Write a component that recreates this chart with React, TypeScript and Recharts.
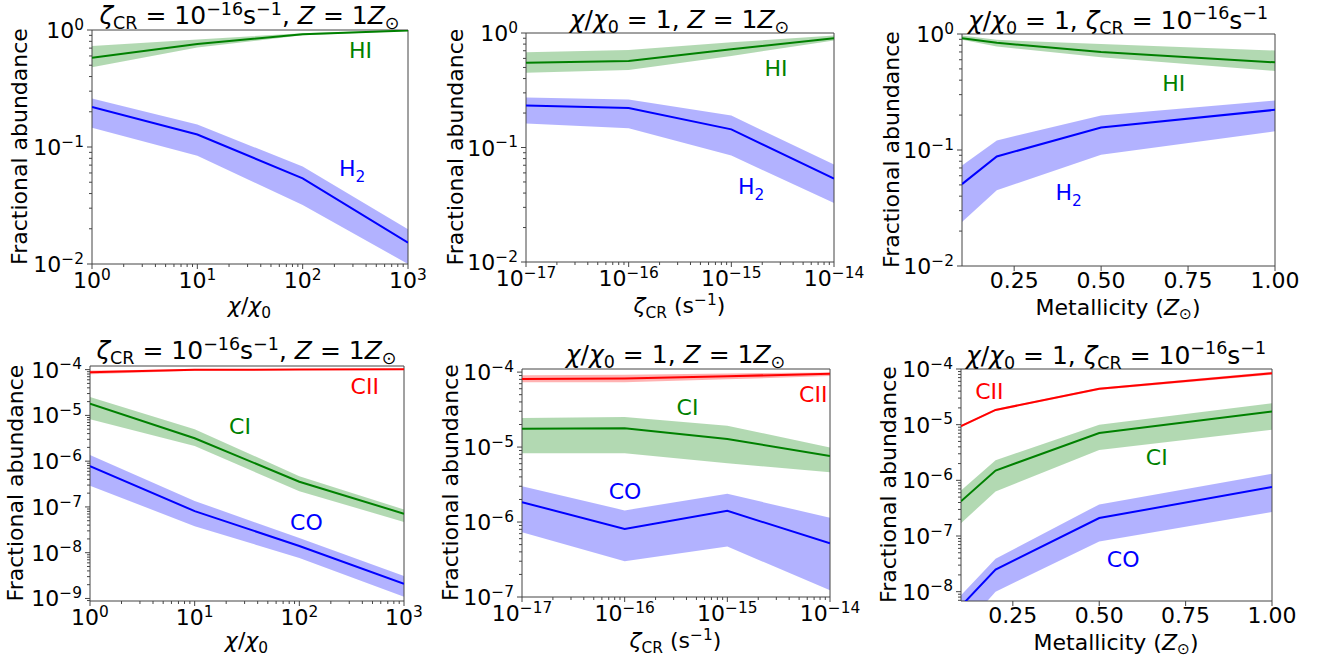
import React from 'react'
import {
  ComposedChart,
  Area,
  Line,
  XAxis,
  YAxis,
  ReferenceArea,
  ReferenceDot,
} from 'recharts'

const FONT = '"DejaVu Sans", Verdana, sans-serif'
const AXIS = '#444'
const GREEN = '#008000'
const BLUE = '#0000ff'
const RED = '#ff0000'

// grids the models were run on
const chiVals = [1, 10, 100, 1000]
const zetaVals = [1e-17, 1e-16, 1e-15, 1e-14]
const metalVals = [0.1, 0.2, 0.5, 1.0]

// tick labels
const chiTicks = [1, 10, 100, 1000]
const zetaTicks = [1e-17, 1e-16, 1e-15, 1e-14]
const metalTicks = [0.25, 0.5, 0.75, 1.0]
const hydTicks = [1e-2, 1e-1, 1]
const carbChiTicks = [1e-9, 1e-8, 1e-7, 1e-6, 1e-5, 1e-4]
const carbZetaTicks = [1e-7, 1e-6, 1e-5, 1e-4]
const carbMetalTicks = [1e-8, 1e-7, 1e-6, 1e-5, 1e-4]

// top row: hydrogen vs chi
const chiHI = [0.58, 0.76, 0.92, 0.99]
const chiHILo = [0.48, 0.71, 0.9, 0.98]
const chiHIHi = [0.73, 0.83, 0.94, 1.0]
const chiH2 = [0.22, 0.128, 0.054, 0.0152]
const chiH2Lo = [0.146, 0.084, 0.032, 0.01]
const chiH2Hi = [0.26, 0.156, 0.068, 0.0198]

// top row: hydrogen vs zeta
const zetaHI = [0.55, 0.57, 0.72, 0.9]
const zetaHILo = [0.45, 0.475, 0.63, 0.86]
const zetaHIHi = [0.68, 0.71, 0.83, 0.95]
const zetaH2 = [0.233, 0.221, 0.144, 0.0534]
const zetaH2Lo = [0.162, 0.147, 0.085, 0.0327]
const zetaH2Hi = [0.274, 0.263, 0.19, 0.071]

// top row: hydrogen vs metallicity
const metalHI = [0.92, 0.84, 0.7, 0.57]
const metalHILo = [0.89, 0.78, 0.63, 0.48]
const metalHIHi = [0.97, 0.89, 0.82, 0.72]
const metalH2 = [0.0508, 0.088, 0.156, 0.222]
const metalH2Lo = [0.0239, 0.045, 0.091, 0.145]
const metalH2Hi = [0.0736, 0.121, 0.198, 0.267]

// bottom row: carbon vs chi
const chiCII = [8.8e-5, 9.9e-5, 1.0e-4, 1.02e-4]
const chiCIILo = [7.9e-5, 9.5e-5, 9.8e-5, 1.0e-4]
const chiCIIHi = [9.6e-5, 1.02e-4, 1.03e-4, 1.04e-4]
const chiCI = [1.81e-5, 3.16e-6, 3.56e-7, 7.1e-8]
const chiCILo = [8.2e-6, 2.14e-6, 2.2e-7, 4.7e-8]
const chiCIHi = [2.53e-5, 4.97e-6, 4.7e-7, 8.8e-8]
const chiCO = [7.8e-7, 8.1e-8, 1.4e-8, 2.1e-9]
const chiCOLo = [2.9e-7, 3.8e-8, 7.7e-9, 1.09e-9]
const chiCOHi = [1.36e-6, 1.35e-7, 2.1e-8, 3.1e-9]

// bottom row: carbon vs zeta
const zetaCII = [8.1e-5, 8.2e-5, 8.8e-5, 9.5e-5]
const zetaCIILo = [7.3e-5, 7.3e-5, 8.0e-5, 8.9e-5]
const zetaCIIHi = [9.1e-5, 9.2e-5, 9.6e-5, 9.9e-5]
const zetaCI = [1.75e-5, 1.78e-5, 1.28e-5, 7.6e-6]
const zetaCILo = [8.3e-6, 8.3e-6, 6.1e-6, 4.6e-6]
const zetaCIHi = [2.45e-5, 2.52e-5, 1.93e-5, 9.9e-6]
const zetaCO = [1.84e-6, 8.1e-7, 1.41e-6, 5.2e-7]
const zetaCOLo = [7.3e-7, 3.0e-7, 4.7e-7, 1.23e-7]
const zetaCOHi = [3.0e-6, 1.43e-6, 2.38e-6, 1.14e-6]

// bottom row: carbon vs metallicity
const metalCII = [9.4e-6, 1.84e-5, 4.4e-5, 8.4e-5]
const metalCIILo = [9.0e-6, 1.76e-5, 4.2e-5, 7.9e-5]
const metalCIIHi = [9.8e-6, 1.92e-5, 4.6e-5, 8.9e-5]
const metalCI = [4.2e-7, 1.5e-6, 7.1e-6, 1.72e-5]
const metalCILo = [1.7e-7, 6.3e-7, 3.5e-6, 8.1e-6]
const metalCIHi = [6.6e-7, 2.3e-6, 1.0e-5, 2.42e-5]
const metalCO = [5.5e-9, 2.5e-8, 2.1e-7, 7.6e-7]
const metalCOLo = [2.0e-9, 1.0e-8, 8.0e-8, 2.7e-7]
const metalCOHi = [8.6e-9, 3.9e-8, 3.7e-7, 1.31e-6]

type Seg = { t: string; s?: 'sub' | 'sup'; i?: boolean }
type Series = { key: string; color: string; mid: number[]; lo: number[]; hi: number[] }
type Tag = { text: string; sub?: string; x: number; y: number; color: string }
type Box = { left: number; top: number; right: number; bottom: number }

const isMajor = (v: number) => Math.abs(Math.log10(v) - Math.round(Math.log10(v))) < 1e-6

// decade ticks plus the 2..9 minor ones inside the domain
function withMinor(majors: number[], domain: number[]) {
  const out: number[] = []
  const e0 = Math.floor(Math.log10(domain[0]) + 1e-9)
  const e1 = Math.floor(Math.log10(domain[1]) + 1e-9)
  for (let e = e0; e <= e1; e++) {
    for (let k = 1; k <= 9; k++) {
      const v = k === 1 ? majors.find(m => Math.round(Math.log10(m)) === e) ?? Math.pow(10, e) : k * Math.pow(10, e)
      if (v >= domain[0] * 0.999 && v <= domain[1] * 1.001) out.push(v)
    }
  }
  return out
}

const expText = (v: number) => {
  const e = Math.round(Math.log10(v))
  return e < 0 ? `\u2212${-e}` : `${e}`
}

function Rich({ x, y, segs, size, anchor = 'middle', fill = '#000', transform }: any) {
  let cur = 0
  return (
    <text x={x} y={y} textAnchor={anchor} fontSize={size} fontFamily={FONT} fill={fill}
      transform={transform} style={{ whiteSpace: 'pre' }}>
      {segs.map((g: Seg, k: number) => {
        const target = g.s === 'sup' ? -size * 0.38 : g.s === 'sub' ? size * 0.2 : 0
        const dy = target - cur
        cur = target
        return (
          <tspan key={k} dy={dy} fontSize={g.s ? size * 0.7 : size} fontStyle={g.i ? 'italic' : 'normal'}>
            {g.t}
          </tspan>
        )
      })}
    </text>
  )
}

const TICK = 22

function LogYTick(props: any) {
  const { x, y, payload } = props
  const major = isMajor(payload.value)
  const len = major ? 5 : 3
  return (
    <g>
      <line x1={x - len} x2={x} y1={y} y2={y} stroke={AXIS} />
      {major && (
        <Rich x={x - 8} y={y + 8} anchor="end" size={TICK}
          segs={[{ t: '10' }, { t: expText(payload.value), s: 'sup' }]} />
      )}
    </g>
  )
}

function LogXTick(props: any) {
  const { x, y, payload } = props
  const major = isMajor(payload.value)
  const len = major ? 5 : 3
  return (
    <g>
      <line x1={x} x2={x} y1={y} y2={y + len} stroke={AXIS} />
      {major && (
        <Rich x={x} y={y + 24} size={TICK}
          segs={[{ t: '10' }, { t: expText(payload.value), s: 'sup' }]} />
      )}
    </g>
  )
}

function LinXTick(props: any) {
  const { x, y, payload } = props
  return (
    <g>
      <line x1={x} x2={x} y1={y} y2={y + 5} stroke={AXIS} />
      <text x={x} y={y + 22} textAnchor="middle" fontSize={TICK} fontFamily={FONT} fill="#000">
        {payload.value.toFixed(2)}
      </text>
    </g>
  )
}

function TagText({ cx, cy, text, sub, color }: any) {
  return (
    <text x={cx} y={cy} fill={color} fontSize={22} fontFamily={FONT}>
      {text}
      {sub && <tspan dy={6} fontSize={15.4}>{sub}</tspan>}
    </text>
  )
}

function Panel({ box, xs, xScale, xDomain, xTicks, yDomain, yTicks, series, tags }: {
  box: Box; xs: number[]; xScale: 'log' | 'linear'; xDomain: number[]; xTicks: number[]
  yDomain: number[]; yTicks: number[]; series: Series[]; tags: Tag[]
}) {
  const rows = xs.map((x, i) => {
    const r: any = { x }
    series.forEach(s => {
      r[s.key] = s.mid[i]
      r[s.key + 'Band'] = [s.lo[i], s.hi[i]]
    })
    return r
  })
  // axes are 1px thick (a zero size axis is not drawn), so margins leave room for that
  const m = { top: 50, right: 50, bottom: 79, left: 99 }
  const w = box.right - box.left
  const h = box.bottom - box.top
  return (
    <div style={{ position: 'absolute', left: box.left - m.left - 1, top: box.top - m.top }}>
      <ComposedChart width={w + m.left + 1 + m.right} height={h + m.top + m.bottom + 1} data={rows} margin={m}>
        <XAxis dataKey="x" type="number" scale={xScale} domain={xDomain} allowDataOverflow
          ticks={xScale === 'log' ? withMinor(xTicks, xDomain) : xTicks} interval={0}
          tickSize={0} tickMargin={0} height={1} axisLine={false} tickLine={false}
          tick={xScale === 'log' ? <LogXTick /> : <LinXTick />} />
        <YAxis type="number" scale="log" domain={yDomain} allowDataOverflow
          ticks={withMinor(yTicks, yDomain)} interval={0}
          tickSize={0} tickMargin={0} width={1} axisLine={false} tickLine={false}
          tick={<LogYTick />} />
        {series.map(s => (
          <Area key={s.key + 'b'} dataKey={s.key + 'Band'} type="linear" stroke="none"
            fill={s.color} fillOpacity={0.3} isAnimationActive={false} dot={false} activeDot={false} />
        ))}
        {series.map(s => (
          <Line key={s.key} dataKey={s.key} type="linear" stroke={s.color} strokeWidth={2}
            dot={false} activeDot={false} isAnimationActive={false} />
        ))}
        {tags.map(t => (
          <ReferenceDot key={t.text} x={t.x} y={t.y} r={0}
            shape={(p: any) => <TagText cx={p.cx} cy={p.cy} text={t.text} sub={t.sub} color={t.color} />} />
        ))}
        <ReferenceArea x1={xDomain[0]} x2={xDomain[1]} y1={yDomain[0]} y2={yDomain[1]}
          fill="none" stroke={AXIS} strokeWidth={1} ifOverflow="visible" />
      </ComposedChart>
    </div>
  )
}

const boxes: Box[] = [
  { left: 91.5, top: 29.5, right: 407.5, bottom: 263.5 },
  { left: 525.5, top: 32.5, right: 833.5, bottom: 261.5 },
  { left: 961.5, top: 33.5, right: 1274.5, bottom: 265.5 },
  { left: 89.5, top: 365.5, right: 403.5, bottom: 600.5 },
  { left: 521.5, top: 368.5, right: 829.5, bottom: 596.5 },
  { left: 960.5, top: 368.5, right: 1271.5, bottom: 600.5 },
]

const chiTitle: Seg[] = [
  { t: '\u03b6', i: true }, { t: 'CR', s: 'sub' }, { t: ' = 10' }, { t: '\u221216', s: 'sup' }, { t: 's' },
  { t: '\u22121', s: 'sup' }, { t: ', ' }, { t: 'Z', i: true }, { t: ' = 1' }, { t: 'Z', i: true }, { t: '\u2299', s: 'sub' },
]
const zetaTitle: Seg[] = [
  { t: '\u03c7', i: true }, { t: '/' }, { t: '\u03c7', i: true }, { t: '0', s: 'sub' }, { t: ' = 1, ' },
  { t: 'Z', i: true }, { t: ' = 1' }, { t: 'Z', i: true }, { t: '\u2299', s: 'sub' },
]
const metalTitle: Seg[] = [
  { t: '\u03c7', i: true }, { t: '/' }, { t: '\u03c7', i: true }, { t: '0', s: 'sub' }, { t: ' = 1, ' },
  { t: '\u03b6', i: true }, { t: 'CR', s: 'sub' }, { t: ' = 10' }, { t: '\u221216', s: 'sup' }, { t: 's' }, { t: '\u22121', s: 'sup' },
]
const chiLabel: Seg[] = [{ t: '\u03c7', i: true }, { t: '/' }, { t: '\u03c7', i: true }, { t: '0', s: 'sub' }]
const zetaLabel: Seg[] = [{ t: '\u03b6', i: true }, { t: 'CR', s: 'sub' }, { t: ' (s' }, { t: '\u22121', s: 'sup' }, { t: ')' }]
const metalLabel: Seg[] = [{ t: 'Metallicity (' }, { t: 'Z', i: true }, { t: '\u2299', s: 'sub' }, { t: ')' }]

const titles = [
  { segs: chiTitle, y: 24 }, { segs: zetaTitle, y: 28.3 }, { segs: metalTitle, y: 28.8 },
  { segs: chiTitle, y: 359 }, { segs: zetaTitle, y: 363.3 }, { segs: metalTitle, y: 363.8 },
]
const xLabels = [
  { segs: chiLabel, y: 313.3 }, { segs: zetaLabel, y: 313.3 }, { segs: metalLabel, y: 315 },
  { segs: chiLabel, y: 648.3 }, { segs: zetaLabel, y: 648.3 }, { segs: metalLabel, y: 650 },
]
const yLabelX = [26.7, 463.3, 899, 23.3, 458.3, 896]

export default function App() {
  const hyd = (hi: number[][], h2: number[][]): Series[] => [
    { key: 'HI', color: GREEN, mid: hi[0], lo: hi[1], hi: hi[2] },
    { key: 'H2', color: BLUE, mid: h2[0], lo: h2[1], hi: h2[2] },
  ]
  const carb = (cii: number[][], ci: number[][], co: number[][]): Series[] => [
    { key: 'CII', color: RED, mid: cii[0], lo: cii[1], hi: cii[2] },
    { key: 'CI', color: GREEN, mid: ci[0], lo: ci[1], hi: ci[2] },
    { key: 'CO', color: BLUE, mid: co[0], lo: co[1], hi: co[2] },
  ]
  const dChi = [1, 1000]
  const dZeta = [1e-17, 1e-14]
  const dMetal = [0.1, 1.0]
  const dHyd = [1e-2, 1]
  return (
    <div style={{ position: 'absolute', left: 0, top: 0, width: 1322, height: 664, background: '#fff', fontFamily: FONT }}>
      <Panel box={boxes[0]} xs={chiVals} xScale="log" xDomain={dChi} xTicks={chiTicks} yDomain={dHyd} yTicks={hydTicks}
        series={hyd([chiHI, chiHILo, chiHIHi], [chiH2, chiH2Lo, chiH2Hi])}
        tags={[{ text: 'HI', x: 275, y: 0.576, color: GREEN }, { text: 'H', sub: '2', x: 221, y: 0.057, color: BLUE }]} />
      <Panel box={boxes[1]} xs={zetaVals} xScale="log" xDomain={dZeta} xTicks={zetaTicks} yDomain={dHyd} yTicks={hydTicks}
        series={hyd([zetaHI, zetaHILo, zetaHIHi], [zetaH2, zetaH2Lo, zetaH2Hi])}
        tags={[{ text: 'HI', x: 2.1e-15, y: 0.42, color: GREEN }, { text: 'H', sub: '2', x: 1.16e-15, y: 0.0396, color: BLUE }]} />
      <Panel box={boxes[2]} xs={metalVals} xScale="linear" xDomain={dMetal} xTicks={metalTicks} yDomain={dHyd} yTicks={hydTicks}
        series={hyd([metalHI, metalHILo, metalHIHi], [metalH2, metalH2Lo, metalH2Hi])}
        tags={[{ text: 'HI', x: 0.676, y: 0.325, color: GREEN }, { text: 'H', sub: '2', x: 0.369, y: 0.037, color: BLUE }]} />
      <Panel box={boxes[3]} xs={chiVals} xScale="log" xDomain={dChi} xTicks={chiTicks} yDomain={[8.8e-10, 1.2e-4]} yTicks={carbChiTicks}
        series={carb([chiCII, chiCIILo, chiCIIHi], [chiCI, chiCILo, chiCIHi], [chiCO, chiCOLo, chiCOHi])}
        tags={[{ text: 'CII', x: 309, y: 2.9e-5, color: RED }, { text: 'CI', x: 21.3, y: 3.86e-6, color: GREEN }, { text: 'CO', x: 81.5, y: 3.2e-8, color: BLUE }]} />
      <Panel box={boxes[4]} xs={zetaVals} xScale="log" xDomain={dZeta} xTicks={zetaTicks} yDomain={[1e-7, 1.1e-4]} yTicks={carbZetaTicks}
        series={carb([zetaCII, zetaCIILo, zetaCIIHi], [zetaCI, zetaCILo, zetaCIHi], [zetaCO, zetaCOLo, zetaCOHi])}
        tags={[{ text: 'CII', x: 5.0e-15, y: 4.04e-5, color: RED }, { text: 'CI', x: 3.2e-16, y: 2.71e-5, color: GREEN }, { text: 'CO', x: 7.0e-17, y: 2.0e-6, color: BLUE }]} />
      <Panel box={boxes[5]} xs={metalVals} xScale="linear" xDomain={dMetal} xTicks={metalTicks} yDomain={[6.8e-9, 1e-4]} yTicks={carbMetalTicks}
        series={carb([metalCII, metalCIILo, metalCIIHi], [metalCI, metalCILo, metalCIHi], [metalCO, metalCOLo, metalCOHi])}
        tags={[{ text: 'CII', x: 0.141, y: 2.9e-5, color: RED }, { text: 'CI', x: 0.635, y: 1.9e-6, color: GREEN }, { text: 'CO', x: 0.522, y: 2.78e-8, color: BLUE }]} />
      <svg width={1322} height={664} style={{ position: 'absolute', left: 0, top: 0, pointerEvents: 'none' }}>
        {boxes.map((b, i) => {
          const cx = (b.left + b.right) / 2
          const cy = (b.top + b.bottom) / 2
          return (
            <g key={i}>
              <Rich x={cx} y={titles[i].y} size={25} segs={titles[i].segs} />
              <Rich x={cx} y={xLabels[i].y} size={22} segs={xLabels[i].segs} />
              <text transform={`translate(${yLabelX[i]},${cy}) rotate(-90)`} textAnchor="middle"
                fontSize={22} fontFamily={FONT} fill="#000">Fractional abundance</text>
            </g>
          )
        })}
      </svg>
    </div>
  )
}
